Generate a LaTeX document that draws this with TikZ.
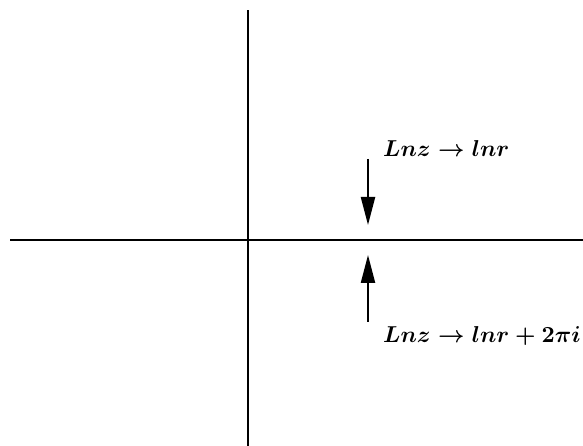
\documentclass[tikz,border=0pt]{standalone}
\usepackage{amsmath}
\usetikzlibrary{arrows.meta}
\begin{document}
\begin{tikzpicture}[x=1pt,y=1pt,
  axis/.style={line width=2.8pt},
  arr/.style={line width=2.2pt,-{Triangle[length=28pt,width=14pt]}},
  lab/.style={anchor=west,inner sep=0pt}]
\useasboundingbox (0,0) rectangle (583,446);
\coordinate (xl) at (10,206);
\coordinate (xr) at (583,206);
\coordinate (yb) at (248,0);
\coordinate (yt) at (248,436);
\draw[axis] (xl) -- (xr);
\draw[axis] (yb) -- (yt);
\coordinate (a1s) at (368,287);
\coordinate (a1e) at (368,221);
\coordinate (a2s) at (368,124);
\coordinate (a2e) at (368,191);
\draw[arr] (a1s) -- (a1e);
\draw[arr] (a2s) -- (a2e);
\node[lab] (t1) at (383,297) {\scalebox{2.3}{\boldmath$Lnz\rightarrow lnr$}};
\node[lab] (t2) at (383,110) {\scalebox{2.3}{\boldmath$Lnz\rightarrow lnr+2\pi i$}};
\end{tikzpicture}
\end{document}
